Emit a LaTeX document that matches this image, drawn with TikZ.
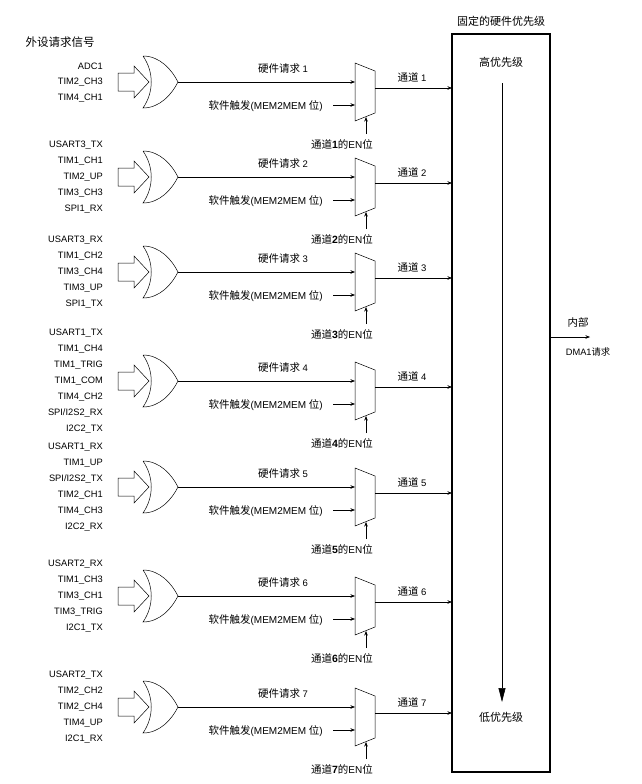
\documentclass[tikz,border=0pt]{standalone}
\usepackage{fontspec}
\setmainfont{Liberation Sans}
\newfontfamily\cjk{Noto Sans CJK SC}
\usetikzlibrary{arrows.meta}
\begin{document}
\begin{tikzpicture}[x=1pt,y=-1pt,
  lab/.style={font=\fontsize{9.3}{10}\selectfont, inner sep=0},
  zh/.style={font=\cjk\fontsize{10.5}{12}\selectfont, inner sep=0},
  arr/.style={-{Stealth[length=4.5pt,width=3.5pt]}, line width=0.5pt},
  gate/.style={line width=0.5pt}]
\useasboundingbox (0,0) rectangle (642,784);
\node[zh, font=\cjk\fontsize{11.5}{13}\selectfont] (title) at (60,42) {外设请求信号};
\node[zh, font=\cjk\fontsize{11}{13}\selectfont] (ptitle) at (501,21) {固定的硬件优先级};
\draw[line width=1.6pt] (452,34) rectangle (550,772);
\coordinate (box) at (452,34);
\node[zh, font=\cjk\fontsize{11}{13}\selectfont] (hi) at (501,62) {高优先级};
\node[zh, font=\cjk\fontsize{11}{13}\selectfont] (lo) at (501,717) {低优先级};
\coordinate (pa) at (502,83); \coordinate (pb) at (502,702);
\draw[-{Triangle[length=14pt,width=7pt]}, line width=0.6pt] (pa) -- (pb);
\coordinate (outA) at (550,337); \coordinate (outB) at (590,337);
\draw[arr] (outA) -- (outB);
\node[zh] (nb) at (578,322) {内部};
\node[lab] (dma) at (588,352) {DMA1{\cjk 请求}};
\foreach \i/\c/\n/\list in {
  1/82/3/{ADC1,TIM2\_CH3,TIM4\_CH1},
  2/177/5/{USART3\_TX,TIM1\_CH1,TIM2\_UP,TIM3\_CH3,SPI1\_RX},
  3/272/5/{USART3\_RX,TIM1\_CH2,TIM3\_CH4,TIM3\_UP,SPI1\_TX},
  4/381/7/{USART1\_TX,TIM1\_CH4,TIM1\_TRIG,TIM1\_COM,TIM4\_CH2,SPI/I2S2\_RX,I2C2\_TX},
  5/487/6/{USART1\_RX,TIM1\_UP,SPI/I2S2\_TX,TIM2\_CH1,TIM4\_CH3,I2C2\_RX},
  6/596/5/{USART2\_RX,TIM1\_CH3,TIM3\_CH1,TIM3\_TRIG,I2C1\_TX},
  7/707/5/{USART2\_TX,TIM2\_CH2,TIM2\_CH4,TIM4\_UP,I2C1\_RX}} {
  \foreach \s [count=\k] in \list {
    \node[lab, anchor=east] (in\i-\k) at (103, {\c + (\k - (\n+1)/2)*16}) {\s};
  }
  \draw[gate] (118,\c-9) -- (134,\c-9) -- (134,\c-16) -- (149,\c) -- (134,\c+16) -- (134,\c+9) -- (118,\c+9) -- cycle;
  \draw[gate] (143,\c-26) .. controls (160,\c-26) and (172,\c-12) .. (178,\c)
     .. controls (172,\c+12) and (160,\c+26) .. (143,\c+26)
     .. controls (154,\c+10) and (154,\c-10) .. (143,\c-26);
  \coordinate (or\i) at (178,\c);
  \draw[gate] (355,\c-19) -- (375,\c-11) -- (375,\c+31) -- (355,\c+39) -- cycle;
  \coordinate (muxin\i) at (355,\c);
  \coordinate (muxsw\i) at (355,\c+23);
  \coordinate (muxen\i) at (366,{\c+35});
  \coordinate (muxout\i) at (375,\c+6);
  \coordinate (sw\i) at (333,\c+23);
  \coordinate (en\i) at (366,\c+52);
  \coordinate (ch\i) at (452,\c+6);
  \draw[arr] (or\i) -- (muxin\i);
  \draw[arr] (sw\i) -- (muxsw\i);
  \draw[arr] (en\i) -- (muxen\i);
  \draw[arr] (muxout\i) -- (ch\i);
  \node[zh] (hw\i) at (283,\c-13) {硬件请求 {\fontspec{Liberation Sans}\fontsize{9.5}{11}\selectfont\i}};
  \node[zh, anchor=east] (swl\i) at (323,\c+24) {软件触发{\fontspec{Liberation Sans}\fontsize{10}{11}\selectfont(MEM2MEM }位{\fontspec{Liberation Sans}\fontsize{10}{11}\selectfont)}};
  \node[zh] (enl\i) at (342,\c+62) {通道{\fontspec{Liberation Sans}\bfseries\i}的{\fontspec{Liberation Sans}\fontsize{10}{11}\selectfont EN}位};
  \node[zh] (chl\i) at (412,\c-5) {通道 {\fontspec{Liberation Sans}\fontsize{9.5}{11}\selectfont\i}};
}
\end{tikzpicture}
\end{document}
